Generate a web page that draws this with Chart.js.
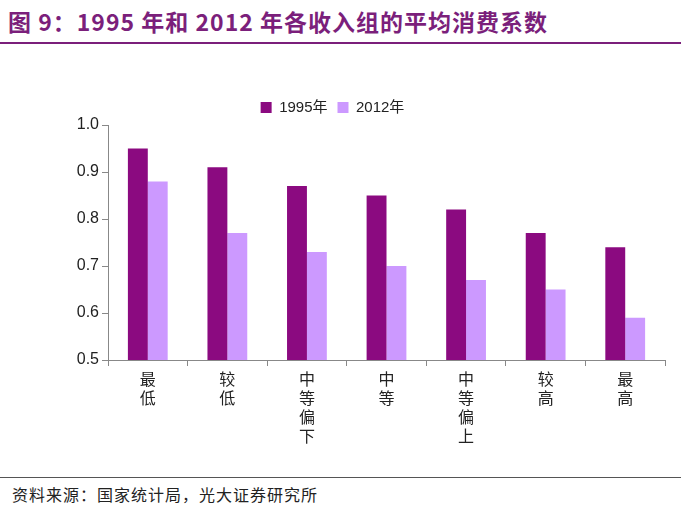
<!DOCTYPE html>
<html><head><meta charset="utf-8">
<script src="https://cdn.jsdelivr.net/npm/chart.js@4"></script>
<style>
body{margin:0;width:681px;height:512px;background:#fff;position:relative;font-family:"Noto Sans CJK SC",sans-serif;overflow:hidden}
#title{position:absolute;left:8px;top:4px;font-size:23px;font-weight:bold;color:#7B1F7B;letter-spacing:1px}
#tline{position:absolute;left:0;top:42px;width:681px;height:2px;background:#7B1F7B}
#bline{position:absolute;left:0;top:477px;width:681px;height:1px;background:#555}
#src{position:absolute;left:12px;top:482px;font-size:16px;color:#222;letter-spacing:1px}
#wrap{position:absolute;left:0;top:90px;width:681px;height:380px}
</style></head><body>
<div id="title">图 9：1995 年和 2012 年各收入组的平均消费系数</div>
<div id="tline"></div>
<div id="wrap"><canvas id="c"></canvas></div>
<div id="bline"></div>
<div id="src">资料来源：国家统计局，光大证券研究所</div>
<script>
const categories=[["最","低"],["较","低"],["中","等","偏","下"],["中","等"],["中","等","偏","上"],["较","高"],["最","高"]];
const series1995=[0.95,0.91,0.87,0.85,0.82,0.77,0.74];
const series2012=[0.88,0.77,0.73,0.70,0.67,0.65,0.59];
const yTicks=[0.5,0.6,0.7,0.8,0.9,1.0];
new Chart(document.getElementById('c'),{type:'bar',
data:{labels:categories,datasets:[
{label:'1995年',data:series1995,backgroundColor:'#8B0A80',categoryPercentage:0.5,barPercentage:1},
{label:'2012年',data:series2012,backgroundColor:'#CC99FF',categoryPercentage:0.5,barPercentage:1}]},
options:{responsive:true,maintainAspectRatio:false,animation:false,
layout:{padding:{left:0,right:16,top:0,bottom:0}},
plugins:{legend:{position:'top',labels:{boxWidth:11,boxHeight:11,font:{size:15,family:'Liberation Sans, Noto Sans CJK SC'},color:'#222',padding:10}},tooltip:{enabled:false}},
scales:{
x:{grid:{display:true,drawOnChartArea:false,offset:true,tickLength:6,color:'#888'},border:{color:'#888'},
 ticks:{font:{size:16,family:'Noto Sans CJK SC'},color:'#222',maxRotation:0,autoSkip:false},
 afterFit:a=>{a.height=110;}},
y:{min:0.5,max:1.0,grid:{display:true,drawOnChartArea:false,tickLength:6,color:'#888'},border:{color:'#888'},
 afterBuildTicks:a=>{a.ticks=yTicks.map(v=>({value:v}));},
 ticks:{font:{size:16,family:'Liberation Sans'},color:'#222',callback:v=>v.toFixed(1)},
 afterFit:a=>{a.width=108;}}}}});
</script></body></html>
